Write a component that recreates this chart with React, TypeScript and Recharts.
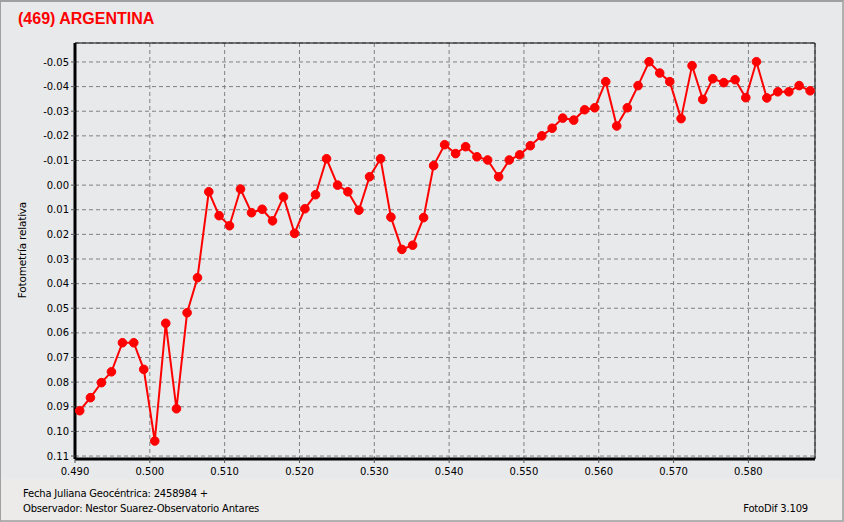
import React from "react";
import { CartesianGrid, ComposedChart, Line, ReferenceArea, XAxis, YAxis } from "recharts";

// fraction of Julian day after 2458984
const jd = [
  0.49063, 0.49206, 0.49353, 0.49487, 0.49634, 0.49785, 0.49919, 0.50066, 0.50213, 0.50356,
  0.50498, 0.50637, 0.50788, 0.50926, 0.51065, 0.51212, 0.51359, 0.51501, 0.5164, 0.51787,
  0.51934, 0.52072, 0.52215, 0.52362, 0.52509, 0.52647, 0.52794, 0.52937, 0.53084, 0.53222,
  0.53369, 0.53512, 0.53659, 0.53793, 0.5394, 0.54087, 0.54221, 0.54372, 0.54515, 0.54662,
  0.54804, 0.54943, 0.55085, 0.55238, 0.55377, 0.55518, 0.55665, 0.55812, 0.55946, 0.56093,
  0.5624, 0.56382, 0.56525, 0.56672, 0.56815, 0.56949, 0.571, 0.57247, 0.5739, 0.57524,
  0.57671, 0.57822, 0.57965, 0.58107, 0.58246, 0.58393, 0.5854, 0.58678, 0.58825,
];

// relative photometry (magnitude difference)
const mag = [
  0.0916, 0.0863, 0.0802, 0.0758, 0.064, 0.064, 0.0748, 0.1039, 0.0561, 0.0908,
  0.0518, 0.0376, 0.0027, 0.0124, 0.0165, 0.0016, 0.0112, 0.0098, 0.0145, 0.0048,
  0.0196, 0.0096, 0.0039, -0.0107, 0.0, 0.0027, 0.0102, -0.0034, -0.0107, 0.013,
  0.0261, 0.0244, 0.0132, -0.0079, -0.0164, -0.0128, -0.0156, -0.0115, -0.0102, -0.0034,
  -0.0102, -0.0123, -0.016, -0.02, -0.0231, -0.0272, -0.0264, -0.0306, -0.0314, -0.042,
  -0.024, -0.0314, -0.0404, -0.0501, -0.0455, -0.042, -0.027, -0.0485, -0.0348, -0.0432,
  -0.0416, -0.0428, -0.0355, -0.0501, -0.0354, -0.0379, -0.0379, -0.0404, -0.0383,
];

const xTicks = [0.49, 0.5, 0.51, 0.52, 0.53, 0.54, 0.55, 0.56, 0.57, 0.58];
const xMinorTicks = [
  0.492, 0.494, 0.496, 0.498, 0.502, 0.504, 0.506, 0.508, 0.512, 0.514, 0.516, 0.518,
  0.522, 0.524, 0.526, 0.528, 0.532, 0.534, 0.536, 0.538, 0.542, 0.544, 0.546, 0.548,
  0.552, 0.554, 0.556, 0.558, 0.562, 0.564, 0.566, 0.568, 0.572, 0.574, 0.576, 0.578,
  0.582, 0.584, 0.586, 0.588,
];
const yTicks = [
  -0.05, -0.04, -0.03, -0.02, -0.01, 0.0, 0.01, 0.02, 0.03, 0.04, 0.05, 0.06, 0.07, 0.08,
  0.09, 0.1, 0.11,
];

const X_DOMAIN: [number, number] = [0.49, 0.5889];
const Y_DOMAIN: [number, number] = [-0.0577, 0.1112];

const data = jd.map((t, i) => ({ t, mag: mag[i] }));

const tickFont = { fill: "#000", fontSize: 10, fontFamily: "DejaVu Sans" };
const textFont: React.CSSProperties = {
  position: "absolute",
  fontFamily: "DejaVu Sans",
  fontSize: 10,
  letterSpacing: -0.2,
  color: "#000",
  whiteSpace: "nowrap",
  lineHeight: "12px",
};

export default function App() {
  return (
    <div
      style={{
        position: "absolute",
        left: 0,
        top: 0,
        width: 844,
        height: 522,
        background: "#e8e9eb",
        boxSizing: "border-box",
        borderTop: "2px solid #a0a0a0",
        borderLeft: "1px solid #a0a0a0",
        borderRight: "2px solid #b0b0b0",
        borderBottom: "2px solid #b0b0b0",
        overflow: "hidden",
      }}
    >
      <div style={{ position: "absolute", left: 0, right: 0, top: 477, bottom: 0, background: "#ecebe9" }} />
      <div style={{ position: "absolute", left: -1, top: -2 }}>
        <ComposedChart width={844} height={522} data={data} margin={{ top: 43, right: 29, bottom: 43, left: 0 }}>
          <CartesianGrid stroke="#808080" strokeDasharray="4 3" />
          <XAxis
            xAxisId="minor"
            dataKey="t"
            type="number"
            domain={X_DOMAIN}
            ticks={xMinorTicks}
            height={0}
            axisLine={false}
            tickLine={{ stroke: "#555" }}
            tickSize={4}
            tick={() => <g />}
            allowDataOverflow
          />
          <XAxis
            dataKey="t"
            type="number"
            domain={X_DOMAIN}
            ticks={xTicks}
            height={20}
            allowDataOverflow
            tickFormatter={(v: number) => v.toFixed(3)}
            tick={tickFont}
            tickSize={4}
            tickMargin={5}
            tickLine={{ stroke: "#555" }}
            axisLine={{ stroke: "#000", strokeWidth: 3 }}
          />
          <YAxis
            type="number"
            reversed
            domain={Y_DOMAIN}
            ticks={yTicks}
            width={75}
            allowDataOverflow
            tickFormatter={(v: number) => v.toFixed(2)}
            tick={tickFont}
            tickSize={4}
            tickMargin={2}
            tickLine={{ stroke: "#555" }}
            axisLine={{ stroke: "#000", strokeWidth: 3 }}
          />
          <ReferenceArea
            x1={X_DOMAIN[0]}
            x2={X_DOMAIN[1]}
            y1={Y_DOMAIN[0]}
            y2={Y_DOMAIN[1]}
            fill="none"
            stroke="#000"
            strokeWidth={1}
            ifOverflow="visible"
          />
          <Line
            dataKey="mag"
            type="linear"
            stroke="#ff0000"
            strokeWidth={2}
            dot={{ r: 4.3, fill: "#ff0000", stroke: "#ff0000", strokeWidth: 1 }}
            isAnimationActive={false}
          />
        </ComposedChart>
      </div>
      <div
        style={{
          position: "absolute",
          left: 17,
          top: 8,
          fontFamily: "Liberation Sans",
          fontWeight: "bold",
          fontSize: 16,
          color: "#ff0000",
          whiteSpace: "nowrap",
        }}
      >
        (469) ARGENTINA
      </div>
      <div
        style={{
          ...textFont,
          fontSize: 10.5,
          left: 21 - 60,
          top: 248 - 6,
          width: 120,
          textAlign: "center",
          transform: "rotate(-90deg)",
        }}
      >
        Fotometría relativa
      </div>
      <div style={{ ...textFont, left: 22, top: 486 }}>Fecha Juliana Geocéntrica: 2458984 +</div>
      <div style={{ ...textFont, left: 22, top: 501 }}>Observador: Nestor Suarez-Observatorio Antares</div>
      <div style={{ ...textFont, right: 34, top: 501 }}>FotoDif 3.109</div>
    </div>
  );
}
